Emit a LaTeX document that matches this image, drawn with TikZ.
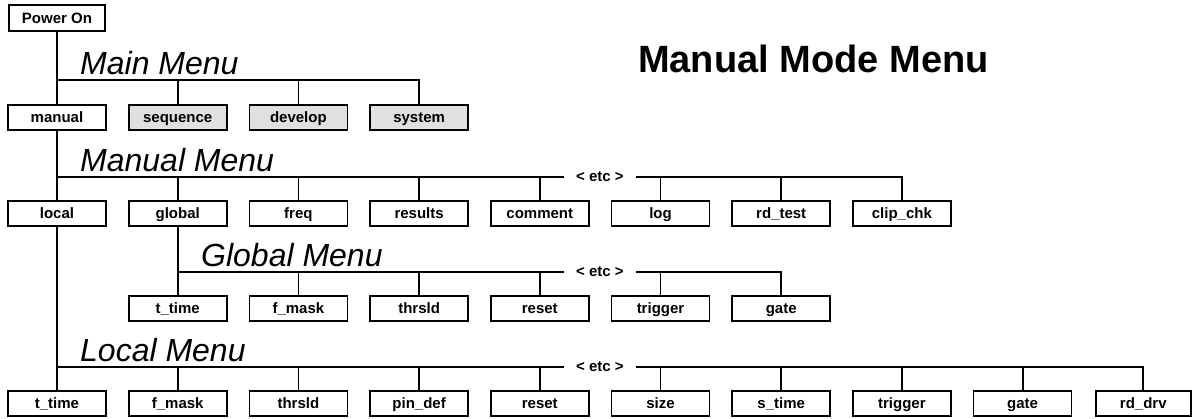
\documentclass[tikz,border=0pt]{standalone}
\usepackage{fontspec}
\setmainfont{Liberation Sans}
\begin{document}
\begin{tikzpicture}[x=1pt,y=-1pt,
  box/.style={draw, line width=1.7pt, minimum width=98pt, minimum height=25pt, inner sep=0pt,
    text height=10.5pt, text depth=0pt,
    font=\fontsize{15}{15}\selectfont\bfseries, anchor=north},
  shadedbox/.style={box, fill=black!12},
  menu/.style={font=\fontsize{32}{32}\selectfont\itshape, anchor=base west, inner sep=0pt},
  etcnode/.style={font=\fontsize{15}{15}\selectfont\bfseries, inner xsep=12pt, inner ysep=0pt},
  wire/.style={line width=1.8pt}]
\useasboundingbox (0,0) rectangle (1192,418);

% title
\node[font=\fontsize{38}{38}\selectfont\bfseries, anchor=base west, inner sep=0pt] (title) at (638,72) {Manual Mode Menu};

% power on
\node[box, minimum width=96pt, minimum height=26pt] (pwr) at (57,4) {Power On};

% main menu row
\node[box] (manual) at (57,104) {manual};
\node[shadedbox] (sequence) at (177.7,104) {sequence};
\node[shadedbox] (develop) at (298.4,104) {develop};
\node[shadedbox] (system) at (419.1,104) {system};
\node[menu] (mainlbl) at (80,74) {Main Menu};
\coordinate (mb) at (0,80);

\draw[wire] (pwr.south) |- (system.north |- mb) -- (system.north);
\foreach \n in {manual,sequence,develop} \draw[wire] (\n.north) -- (\n.north |- mb);

% manual menu row
\node[box] (local) at (57,200) {local};
\node[box] (global) at (177.7,200) {global};
\node[box] (freq) at (298.4,200) {freq};
\node[box] (results) at (419.1,200) {results};
\node[box] (comment) at (539.8,200) {comment};
\node[box] (log) at (660.5,200) {log};
\node[box] (rdtest) at (781.2,200) {rd\_test};
\node[box] (clipchk) at (901.9,200) {clip\_chk};
\node[menu] (manlbl) at (80,171) {Manual Menu};
\node[etcnode] (metc) at (600,177) {< etc >};

\draw[wire] (manual.south) |- (metc.west);
\draw[wire] (metc.east) -| (clipchk.north);
\foreach \n in {local,global,freq,results,comment,log,rdtest} \draw[wire] (\n.north) -- (\n.north |- metc.west);

% global menu row
\node[box] (gttime) at (177.7,295) {t\_time};
\node[box] (gfmask) at (298.4,295) {f\_mask};
\node[box] (gthrsld) at (419.1,295) {thrsld};
\node[box] (greset) at (539.8,295) {reset};
\node[box] (gtrigger) at (660.5,295) {trigger};
\node[box] (ggate) at (781.2,295) {gate};
\node[menu] (glblbl) at (201,266) {Global Menu};
\node[etcnode] (getc) at (600,272) {< etc >};

\draw[wire] (global.south) |- (getc.west);
\draw[wire] (getc.east) -| (ggate.north);
\foreach \n in {gttime,gfmask,gthrsld,greset,gtrigger} \draw[wire] (\n.north) -- (\n.north |- getc.west);

% local menu row
\node[box] (lttime) at (57,390) {t\_time};
\node[box] (lfmask) at (177.7,390) {f\_mask};
\node[box] (lthrsld) at (298.4,390) {thrsld};
\node[box] (lpindef) at (419.1,390) {pin\_def};
\node[box] (lreset) at (539.8,390) {reset};
\node[box] (lsize) at (660.5,390) {size};
\node[box] (lstime) at (781.2,390) {s\_time};
\node[box] (ltrigger) at (901.9,390) {trigger};
\node[box] (lgate) at (1022.6,390) {gate};
\node[box, minimum width=95pt] (lrddrv) at (1143.3,390) {rd\_drv};
\node[menu] (loclbl) at (80,361) {Local Menu};
\node[etcnode] (letc) at (600,367) {< etc >};

\draw[wire] (local.south) |- (letc.west);
\draw[wire] (letc.east) -| (lrddrv.north);
\foreach \n in {lttime,lfmask,lthrsld,lpindef,lreset,lsize,lstime,ltrigger,lgate} \draw[wire] (\n.north) -- (\n.north |- letc.west);
\end{tikzpicture}
\end{document}
